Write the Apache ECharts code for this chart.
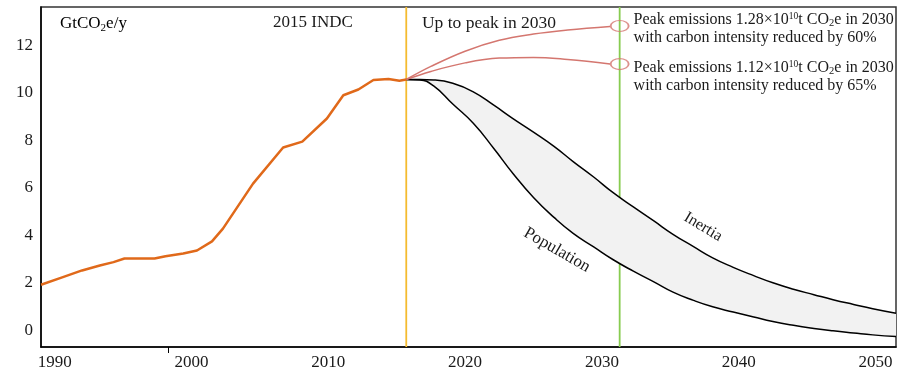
<!DOCTYPE html>
<html>
<head>
<meta charset="utf-8">
<script src="https://cdn.jsdelivr.net/npm/echarts@6/dist/echarts.min.js"></script>
<style>
  html, body { margin: 0; padding: 0; background: #fff; }
  #chart { width: 897px; height: 370px; }
</style>
</head>
<body>
<div id="chart"></div>
<script>
// Historical emissions (GtCO2e per year)
const histYears = [1989, 1990.6, 1992, 1993.3, 1994.3, 1995.1, 1997.3, 1998.1, 1999.4, 2000.4,
  2001.5, 2002.3, 2004.5, 2006.7, 2008.1, 2009.9, 2011.1, 2012.2, 2013.3, 2014.4, 2015.2, 2015.7];
const histEmissions = [1.92, 2.24, 2.52, 2.73, 2.87, 3.02, 3.02, 3.12, 3.23, 3.36,
  3.74, 4.28, 6.17, 7.69, 7.94, 8.91, 9.89, 10.13, 10.53, 10.57, 10.50, 10.55];

// Decline scenarios after the INDC year
const bandYears = [2015.7, 2016.7, 2017.7, 2019.1, 2020.6, 2022.1, 2023.5, 2025.0, 2026.5, 2027.9,
  2029.4, 2030.8, 2032.3, 2033.8, 2035.2, 2036.7, 2038.1, 2039.6, 2041.1, 2042.5, 2044.0, 2045.5,
  2046.9, 2048.4, 2049.8, 2051.5];
const inertia = [10.55, 10.55, 10.53, 10.39, 10.03, 9.47, 8.91, 8.34, 7.74, 7.10,
  6.45, 5.80, 5.19, 4.60, 4.04, 3.52, 3.05, 2.65, 2.30, 2.00, 1.73, 1.50,
  1.29, 1.09, 0.91, 0.72];
const population = [10.55, 10.53, 10.28, 9.52, 8.71, 7.65, 6.60, 5.59, 4.75, 4.08,
  3.51, 2.98, 2.49, 2.04, 1.61, 1.26, 0.99, 0.77, 0.56, 0.37, 0.21, 0.08,
  -0.02, -0.11, -0.19, -0.26];

// Rising paths up to the 2030 peak
const peakPathYears = [2015.7, 2017.5, 2020, 2022.5, 2025, 2027.5, 2030.6];
const peakPath60 = [10.55, 11.10, 11.74, 12.20, 12.46, 12.63, 12.78];
const peakPath65 = [10.55, 10.89, 11.25, 11.45, 11.48, 11.39, 11.20];

// Peak markers
const peakYear = 2031.3;
const peakValues = [12.8, 11.2];
const peakMantissa = ['1.28', '1.12'];
const intensityCut = ['60%', '65%'];

// Reference years drawn as vertical lines
const indcYear = 2015.7;
const peakLineYear = 2031.3;

// Axis ranges and ticks
const xMin = 1989, xMax = 2051.5;
const yMin = -0.7, yMax = 13.6;
const xTickLabels = [1990, 2000, 2010, 2020, 2030, 2040, 2050];
const yTickLabels = [0, 2, 4, 6, 8, 10, 12];

const SERIF = '"Liberation Serif", "Times New Roman", serif';
const INK = '#1a1a1a';
const RED = '#d4766f';

const rich = {
  t: { fontFamily: SERIF, fontSize: 16, color: INK, lineHeight: 18 },
  sup: { fontFamily: SERIF, fontSize: 9.5, color: INK, lineHeight: 18, verticalAlign: 'top' },
  sub: { fontFamily: SERIF, fontSize: 10.5, color: INK, lineHeight: 18, verticalAlign: 'bottom' }
};
const unitRich = {
  t: { fontFamily: SERIF, fontSize: 17, color: INK, lineHeight: 20 },
  sub: { fontFamily: SERIF, fontSize: 11, color: INK, lineHeight: 20, verticalAlign: 'bottom' }
};

const pairs = (xs, ys) => xs.map((x, i) => [x, ys[i]]);
const labelOffsets = [[0, 3], [0, 13]];

// Shaded range between the two decline scenarios
function renderBand(params, api) {
  const top = bandYears.map((y, i) => api.coord([y, inertia[i]]));
  const bottom = bandYears.map((y, i) => api.coord([y, population[i]])).reverse();
  return {
    type: 'polygon',
    shape: { points: top.concat(bottom) },
    style: { fill: '#f2f2f2', stroke: null }
  };
}

function verticalLine(name, year, color) {
  return {
    type: 'line', name: name, z: 1, silent: true,
    data: [[year, yMin], [year, yMax]],
    symbol: 'none',
    lineStyle: { color: color, width: 1.8 }
  };
}

const chart = echarts.init(document.getElementById('chart'), null, { renderer: 'canvas' });

chart.setOption({
  animation: false,
  backgroundColor: '#fff',
  grid: {
    left: 41, right: 1, top: 7, bottom: 23,
    show: true, borderColor: '#333', borderWidth: 1.5,
    containLabel: false, outerBoundsMode: 'none'
  },
  xAxis: {
    type: 'value', min: xMin, max: xMax,
    axisLine: { onZero: false, lineStyle: { color: '#000', width: 1.5 } },
    axisTick: { show: true, customValues: [1998.3], length: 6, lineStyle: { color: '#000', width: 1 } },
    splitLine: { show: false },
    axisLabel: {
      customValues: xTickLabels, margin: 7,
      formatter: v => String(v),
      fontFamily: SERIF, fontSize: 17, color: INK
    }
  },
  yAxis: {
    type: 'value', min: yMin, max: yMax,
    axisLine: { show: true, onZero: false, lineStyle: { color: '#000', width: 1.5 } },
    axisTick: { show: false },
    splitLine: { show: false },
    axisLabel: {
      customValues: yTickLabels, margin: 8,
      formatter: v => String(v),
      fontFamily: SERIF, fontSize: 17, color: INK
    }
  },
  graphic: [
    { type: 'text', x: 60, y: 24, z: 10,
      style: { text: '{t|GtCO}{sub|2}{t|e/y}', rich: unitRich, textVerticalAlign: 'middle' } },
    { type: 'text', x: 313, y: 23, z: 10,
      style: { text: '2015 INDC', font: '17px ' + SERIF, fill: INK,
        textAlign: 'center', textVerticalAlign: 'middle' } },
    { type: 'text', x: 489, y: 23, z: 10,
      style: { text: 'Up to peak in 2030', font: '17.5px ' + SERIF, fill: INK,
        textAlign: 'center', textVerticalAlign: 'middle' } },
    { type: 'text', x: 703, y: 227, rotation: -31 * Math.PI / 180, z: 10,
      style: { text: 'Inertia', font: '16px ' + SERIF, fill: INK,
        textAlign: 'center', textVerticalAlign: 'middle' } },
    { type: 'text', x: 557, y: 250, rotation: -30 * Math.PI / 180, z: 10,
      style: { text: 'Population', font: '17px ' + SERIF, fill: INK,
        textAlign: 'center', textVerticalAlign: 'middle' } }
  ],
  series: [
    verticalLine('INDC year', indcYear, '#f4bb30'),
    verticalLine('Peak year', peakLineYear, '#88cc50'),
    {
      type: 'custom', name: 'Range', z: 2, silent: true,
      renderItem: renderBand,
      data: [[bandYears[0], inertia[0]]]
    },
    {
      type: 'line', name: 'Population',
      data: pairs(bandYears, population),
      smooth: 0.5, symbol: 'none', z: 3,
      lineStyle: { color: '#000', width: 1.5 }
    },
    {
      type: 'line', name: 'Inertia',
      data: pairs(bandYears, inertia),
      smooth: 0.5, symbol: 'none', z: 3,
      lineStyle: { color: '#000', width: 1.5 }
    },
    {
      type: 'line', name: 'Peak 60%',
      data: pairs(peakPathYears, peakPath60),
      smooth: 0.4, symbol: 'none', z: 4,
      lineStyle: { color: RED, width: 1.5 }
    },
    {
      type: 'line', name: 'Peak 65%',
      data: pairs(peakPathYears, peakPath65),
      smooth: 0.4, symbol: 'none', z: 4,
      lineStyle: { color: RED, width: 1.5 }
    },
    {
      type: 'line', name: 'Historical',
      data: pairs(histYears, histEmissions),
      symbol: 'none', z: 5,
      lineStyle: { color: '#e0691a', width: 2.5 }
    },
    {
      type: 'scatter', name: 'Peaks', z: 6,
      symbol: 'circle', symbolSize: [18, 11],
      itemStyle: { color: 'rgba(255,255,255,0)', borderColor: RED, borderWidth: 1.5 },
      data: peakValues.map((v, i) => ({
        value: [peakYear, v],
        label: {
          show: true, position: 'right', distance: 4, offset: labelOffsets[i],
          align: 'left', verticalAlign: 'middle', color: INK, opacity: 1,
          formatter: '{t|Peak emissions ' + peakMantissa[i] + '×10}{sup|10}{t|t CO}{sub|2}{t|e in 2030}\n' +
            '{t|with carbon intensity reduced by ' + intensityCut[i] + '}',
          rich: rich
        }
      }))
    }
  ]
});
</script>
</body>
</html>
